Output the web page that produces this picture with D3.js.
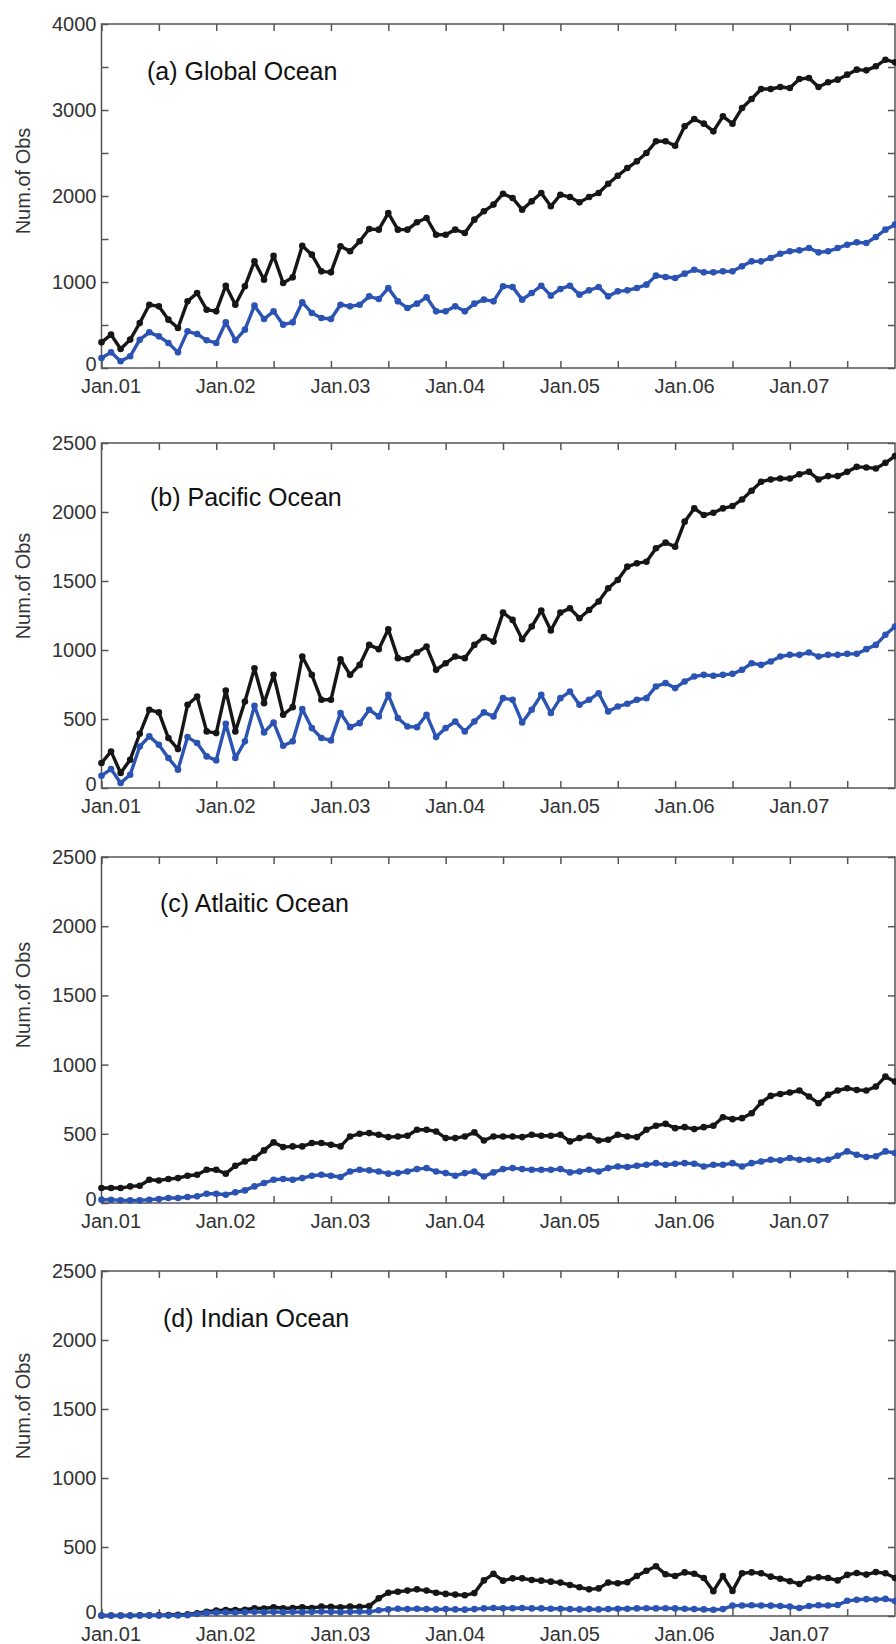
<!DOCTYPE html>
<html>
<head>
<meta charset="utf-8">
<script src="https://cdn.jsdelivr.net/npm/d3@7"></script>
<style>
  body { margin: 0; background: #fff; }
  svg { display: block; font-family: "Liberation Sans", Arial, sans-serif; }
</style>
</head>
<body>
<script>
(function (d3) {
    'use strict';

    var panelTitles = ["(a) Global Ocean", "(b) Pacific Ocean", "(c) Atlaitic Ocean", "(d) Indian Ocean"];
    var yMaxes = [4000, 2500, 2500, 2500];
    var yLabelSteps = [1000, 500, 500, 500];
    var tickMonths = [0, 6, 12, 18, 24, 30, 36, 42, 48, 54, 60, 66, 72, 78];
    var yearMonths = [0, 12, 24, 36, 48, 60, 72];
    var yearLabels = ["Jan.01", "Jan.02", "Jan.03", "Jan.04", "Jan.05", "Jan.06", "Jan.07"];

    // monthly counts, Jan 2001 onward (black = all, blue = subset)
    var globalBlack = [
        298, 388, 221, 330, 523, 736, 717, 562, 465, 775, 872, 678,
        659, 957, 736, 950, 1240, 1027, 1306, 988, 1054, 1422, 1318, 1124,
        1112, 1415, 1357, 1473, 1616, 1609, 1802, 1609, 1609, 1694, 1744, 1550,
        1550, 1609, 1570, 1725, 1822, 1900, 2027, 1977, 1841, 1938, 2035, 1880,
        2015, 1988, 1926, 1988, 2035, 2143, 2236, 2325, 2403, 2500, 2636, 2636,
        2585, 2810, 2895, 2841, 2752, 2926, 2841, 3023, 3128, 3244, 3244, 3267,
        3256, 3360, 3372, 3267, 3322, 3353, 3411, 3469, 3461, 3508, 3585, 3554
    ];
    var globalBlue = [
        116, 182, 78, 136, 329, 415, 368, 291, 182, 426, 395, 322,
        291, 531, 322, 446, 725, 570, 659, 504, 531, 764, 640, 581,
        570, 736, 717, 736, 833, 802, 930, 775, 698, 748, 822, 659,
        659, 717, 659, 748, 795, 775, 950, 942, 795, 872, 957, 841,
        919, 957, 853, 903, 942, 833, 891, 903, 930, 969, 1074, 1058,
        1047, 1097, 1143, 1112, 1112, 1124, 1124, 1182, 1240, 1240, 1279, 1329,
        1357, 1368, 1395, 1345, 1357, 1395, 1434, 1461, 1453, 1523, 1609, 1667
    ];
    var pacificBlack = [
        181, 265, 109, 205, 393, 567, 548, 362, 282, 603, 663, 410,
        398, 707, 410, 627, 868, 615, 820, 531, 586, 953, 820, 639,
        639, 933, 820, 892, 1037, 1006, 1150, 941, 933, 982, 1025, 856,
        904, 953, 941, 1037, 1093, 1061, 1271, 1218, 1078, 1170, 1286, 1141,
        1271, 1302, 1230, 1290, 1351, 1447, 1507, 1604, 1628, 1640, 1737, 1778,
        1749, 1930, 2026, 1978, 1995, 2026, 2043, 2091, 2154, 2219, 2236, 2243,
        2243, 2274, 2291, 2236, 2260, 2260, 2291, 2327, 2323, 2315, 2356, 2405
    ];
    var pacificBlue = [
        89, 137, 36, 96, 301, 374, 313, 217, 133, 369, 326, 229,
        200, 466, 217, 338, 596, 403, 475, 306, 338, 572, 434, 362,
        345, 543, 441, 470, 567, 519, 675, 507, 446, 441, 531, 369,
        434, 482, 410, 482, 548, 519, 651, 639, 475, 567, 675, 543,
        651, 699, 603, 639, 687, 555, 591, 610, 639, 651, 736, 760,
        724, 772, 808, 820, 813, 820, 827, 856, 904, 892, 917, 953,
        965, 965, 982, 953, 965, 965, 972, 972, 1006, 1037, 1110, 1170
    ];
    var atlanticBlack = [
        108, 108, 108, 120, 125, 168, 163, 173, 180, 197, 204, 240,
        240, 212, 269, 300, 325, 380, 438, 404, 409, 409, 433, 433,
        421, 409, 481, 500, 505, 493, 476, 481, 486, 529, 529, 517,
        469, 469, 481, 510, 452, 481, 481, 481, 476, 493, 486, 486,
        493, 445, 469, 486, 452, 457, 493, 481, 476, 529, 558, 572,
        541, 548, 534, 548, 558, 620, 606, 613, 649, 726, 774, 788,
        798, 813, 769, 721, 781, 813, 829, 817, 813, 841, 913, 877
    ];
    var atlanticBlue = [
        24, 24, 19, 19, 19, 24, 29, 36, 36, 43, 48, 67,
        67, 60, 77, 91, 120, 144, 168, 173, 168, 180, 197, 204,
        197, 188, 228, 240, 236, 228, 212, 216, 228, 245, 252, 228,
        216, 197, 216, 228, 192, 221, 245, 252, 245, 240, 240, 240,
        245, 221, 228, 240, 228, 252, 264, 260, 269, 276, 288, 276,
        284, 288, 284, 264, 276, 276, 288, 264, 288, 300, 312, 308,
        325, 312, 312, 308, 312, 341, 373, 349, 332, 337, 373, 361
    ];
    var indianBlack = [
        4, 4, 4, 4, 5, 5, 6, 7, 9, 12, 20, 31,
        39, 43, 43, 45, 56, 54, 63, 56, 58, 63, 58, 68,
        66, 63, 68, 66, 72, 128, 169, 176, 184, 193, 184, 169,
        160, 155, 150, 166, 258, 305, 256, 273, 273, 261, 256, 249,
        242, 225, 208, 193, 200, 242, 237, 245, 290, 328, 360, 302,
        290, 316, 306, 275, 180, 290, 182, 310, 316, 310, 285, 270,
        252, 232, 272, 280, 275, 258, 298, 312, 300, 318, 310, 275
    ];
    var indianBlue = [
        3, 3, 3, 3, 3, 3, 3, 3, 4, 6, 15, 22,
        25, 27, 25, 28, 30, 28, 30, 28, 30, 28, 30, 32,
        30, 28, 30, 32, 30, 42, 48, 52, 50, 52, 50, 48,
        50, 48, 46, 50, 55, 58, 56, 56, 58, 55, 55, 52,
        52, 50, 48, 50, 48, 50, 52, 52, 55, 56, 55, 56,
        55, 52, 50, 48, 45, 50, 75, 76, 78, 76, 75, 72,
        68, 58, 72, 78, 76, 80, 110, 118, 122, 120, 124, 108
    ];

    var blackSeries = [globalBlack, pacificBlack, atlanticBlack, indianBlack];
    var blueSeries = [globalBlue, pacificBlue, atlanticBlue, indianBlue];

    var width = 896, height = 1644;
    var plotLeft = 101.5, plotRight = 895;
    var panelTops = [24, 443, 857, 1271];
    var panelBottoms = [368, 788, 1203, 1616];
    var titleOffsets = [56, 63, 55, 56];
    var titleX = [147, 150, 160, 163];
    var yLabelCenter = [157, 143, 138, 135];
    var tickLen = 7;
    var blueColor = "#2b53b3";
    var blackColor = "#161616";

    var svg = d3.select("body").append("svg")
        .attr("width", width)
        .attr("height", height);

    svg.append("rect")
        .attr("width", width)
        .attr("height", height)
        .attr("fill", "#fff");

    var x = d3.scaleLinear()
        .domain([0, 83])
        .range([plotLeft, plotRight]);

    panelTitles.forEach(function (title, i) {
        var top = panelTops[i], bottom = panelBottoms[i];
        var y = d3.scaleLinear()
            .domain([0, yMaxes[i]])
            .range([bottom, top]);

        var g = svg.append("g").attr("class", "panel");
        var yTicks = d3.range(0, yMaxes[i] + 1, 500);
        var step = yLabelSteps[i];

        // left axis with labels
        var left = g.append("g")
            .attr("transform", "translate(" + plotLeft + ",0)")
            .call(d3.axisLeft(y)
                .tickValues(yTicks)
                .tickSizeInner(-tickLen)
                .tickSizeOuter(0)
                .tickPadding(5)
                .tickFormat(function (d) { return d % step === 0 ? d : ""; }));
        // the zero label sits a little high so it clears Jan.01
        left.selectAll(".tick text")
            .filter(function (d) { return d === 0; })
            .attr("dy", "0.1em");

        // right axis, ticks only
        var right = g.append("g")
            .attr("transform", "translate(" + plotRight + ",0)")
            .call(d3.axisRight(y)
                .tickValues(yTicks)
                .tickSizeInner(-tickLen)
                .tickSizeOuter(0)
                .tickFormat(""));

        // bottom axis, year labels
        var bottomAxis = g.append("g")
            .attr("transform", "translate(0," + bottom + ")")
            .call(d3.axisBottom(x)
                .tickValues(tickMonths)
                .tickSizeInner(-tickLen)
                .tickSizeOuter(0)
                .tickPadding(11)
                .tickFormat(function (m) {
                    var k = yearMonths.indexOf(m);
                    return k >= 0 ? yearLabels[k] : "";
                }));
        bottomAxis.selectAll("text").attr("dx", 9);

        // top axis, ticks only
        var topAxis = g.append("g")
            .attr("transform", "translate(0," + top + ")")
            .call(d3.axisTop(x)
                .tickValues(tickMonths)
                .tickSizeInner(-tickLen)
                .tickSizeOuter(0)
                .tickFormat(""));

        [left, right, bottomAxis, topAxis].forEach(function (a) {
            a.select(".domain").remove();
            a.selectAll(".tick line").attr("stroke", "#555").attr("stroke-width", 1.5);
            a.selectAll("text")
                .attr("fill", "#333")
                .attr("font-size", 20)
                .attr("font-family", "'Liberation Sans', Arial, sans-serif");
        });

        g.append("rect")
            .attr("x", plotLeft)
            .attr("y", top)
            .attr("width", plotRight - plotLeft)
            .attr("height", bottom - top)
            .attr("fill", "none")
            .attr("stroke", "#555")
            .attr("stroke-width", 1.5);

        g.append("text")
            .attr("transform", "translate(30," + (top + yLabelCenter[i]) + ") rotate(-90)")
            .attr("text-anchor", "middle")
            .attr("font-size", 20)
            .attr("fill", "#333")
            .text("Num.of Obs");

        var line = d3.line()
            .x(function (d, j) { return x(j); })
            .y(function (d) { return y(d); });

        [[blackSeries[i], blackColor], [blueSeries[i], blueColor]].forEach(function (s) {
            g.append("path")
                .datum(s[0])
                .attr("fill", "none")
                .attr("stroke", s[1])
                .attr("stroke-width", 3.4)
                .attr("stroke-linejoin", "round")
                .attr("d", line);

            g.append("g")
                .attr("fill", s[1])
                .selectAll("circle")
                .data(s[0])
                .enter().append("circle")
                .attr("cx", function (d, j) { return x(j); })
                .attr("cy", function (d) { return y(d); })
                .attr("r", 3.3);
        });

        g.append("text")
            .attr("x", titleX[i])
            .attr("y", top + titleOffsets[i])
            .attr("font-size", 25)
            .attr("fill", "#111")
            .text(title);
    });

})(d3);
</script>
</body>
</html>
